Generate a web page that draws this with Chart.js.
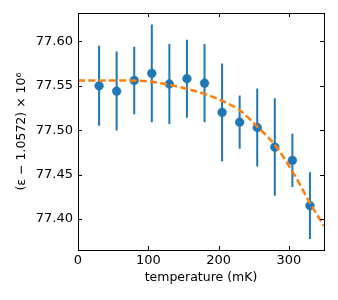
<!DOCTYPE html>
<html>
<head>
<meta charset="utf-8">
<script src="https://cdn.jsdelivr.net/npm/chart.js@4.4.0/dist/chart.umd.min.js"></script>
<style>
  html, body { margin: 0; padding: 0; background: #fff; }
  #wrap { width: 338px; height: 300px; }
</style>
</head>
<body>
<div id="wrap"><canvas id="chart"></canvas></div>
<script>
// measured points
const temps = [30, 55, 80, 105, 130, 155, 180, 205, 230, 255, 280, 305, 330];
const eps = [77.550, 77.544, 77.556, 77.564, 77.552, 77.558, 77.553, 77.520, 77.509, 77.503, 77.481, 77.466, 77.415];
const errs = [0.045, 0.0445, 0.038, 0.055, 0.045, 0.044, 0.044, 0.055, 0.030, 0.044, 0.055, 0.030, 0.0375];

// fit curve
const fitT = [0, 50, 100, 130, 160, 183, 212, 231, 255, 280, 307, 330, 350];
const fitEps = [77.556, 77.556, 77.555, 77.551, 77.5455, 77.540, 77.5305, 77.522, 77.504, 77.4835, 77.451, 77.418, 77.392];

const xTicks = [0, 100, 200, 300];
const yTicks = [77.40, 77.45, 77.50, 77.55, 77.60];

const blue = '#1f77b4';
const orange = '#ff7f0e';
const tickFont = { family: 'DejaVu Sans', size: 13 };
const labelFont = { family: 'DejaVu Sans', size: 12.5 };

let errData = [];
for (let i = 0; i < temps.length; i++) {
    errData.push({ x: temps[i], y: eps[i] - errs[i] });
    errData.push({ x: temps[i], y: eps[i] + errs[i] });
    errData.push({ x: temps[i], y: null });
}

// frame + inward ticks on all four sides
const framePlugin = {
    id: 'frame',
    afterDatasetsDraw(chart) {
        const ctx = chart.ctx;
        const a = chart.chartArea;
        const xs = chart.scales.x, ys = chart.scales.y;
        const len = 4;
        ctx.save();
        ctx.strokeStyle = '#000';
        ctx.lineWidth = 1;
        ctx.beginPath();
        xTicks.forEach(v => {
            const px = Math.round(xs.getPixelForValue(v)) + 0.5;
            ctx.moveTo(px, a.bottom); ctx.lineTo(px, a.bottom - len);
            ctx.moveTo(px, a.top); ctx.lineTo(px, a.top + len);
        });
        yTicks.forEach(v => {
            const py = Math.round(ys.getPixelForValue(v)) + 0.5;
            ctx.moveTo(a.left, py); ctx.lineTo(a.left + len, py);
            ctx.moveTo(a.right, py); ctx.lineTo(a.right - len, py);
        });
        ctx.stroke();
        ctx.strokeRect(Math.round(a.left) + 0.5, Math.round(a.top) + 0.5,
            Math.round(a.right - a.left), Math.round(a.bottom - a.top));
        ctx.restore();
    }
};

new Chart(document.getElementById('chart'), {
    type: 'line',
    data: {
        datasets: [
            {
                label: 'fit',
                data: fitT.map((t, i) => ({ x: t, y: fitEps[i] })),
                borderColor: orange,
                borderWidth: 2.5,
                borderDash: [7, 3.3],
                pointRadius: 0,
                cubicInterpolationMode: 'monotone',
                order: 1
            },
            {
                label: 'data',
                data: temps.map((t, i) => ({ x: t, y: eps[i] })),
                showLine: false,
                pointRadius: 4.4,
                pointBorderWidth: 0.5,
                pointBackgroundColor: blue,
                pointBorderColor: blue,
                order: 2
            },
            {
                label: 'err',
                data: errData,
                borderColor: blue,
                borderWidth: 2,
                pointRadius: 0,
                spanGaps: false,
                order: 3
            }
        ]
    },
    options: {
        responsive: true,
        maintainAspectRatio: false,
        animation: false,
        layout: { padding: { left: 0, right: 14, top: 13, bottom: 0 } },
        plugins: { legend: { display: false }, tooltip: { enabled: false } },
        scales: {
            x: {
                type: 'linear',
                min: 0,
                max: 350,
                afterBuildTicks: s => { s.ticks = xTicks.map(v => ({ value: v })); },
                afterFit: s => { s.height = 50; },
                grid: { display: false, drawTicks: false },
                border: { display: false },
                ticks: { font: tickFont, color: '#000', padding: 3, maxRotation: 0 },
                title: {
                    display: true, text: 'temperature (mK)', font: labelFont, color: '#000',
                    padding: { top: 0, bottom: 14.5 }
                }
            },
            y: {
                type: 'linear',
                min: 77.365,
                max: 77.632,
                afterBuildTicks: s => { s.ticks = yTicks.map(v => ({ value: v })); },
                afterFit: s => { s.width = 78; },
                grid: { display: false, drawTicks: false },
                border: { display: false },
                ticks: {
                    font: tickFont, color: '#000', padding: 5,
                    callback: v => Number(v).toFixed(2)
                },
                title: {
                    display: true, text: '(ε − 1.0572) × 10⁶', font: labelFont, color: '#000',
                    padding: { top: 14.5, bottom: 0 }
                }
            }
        }
    },
    plugins: [framePlugin]
});
</script>
</body>
</html>
